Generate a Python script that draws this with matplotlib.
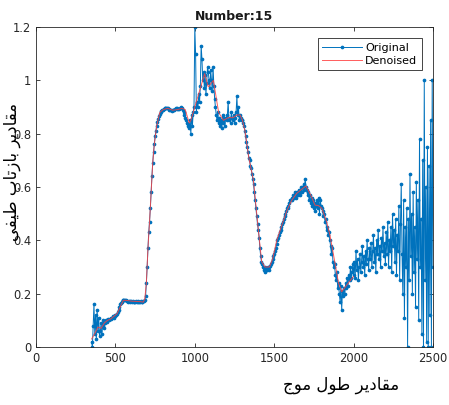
import numpy as np
import matplotlib
matplotlib.use("Agg")
import matplotlib.pyplot as plt

# original spectrum, 5 nm steps from 350 to 2500 nm
wl_orig = np.arange(350, 2501, 5)
refl_orig = [
    0.02, 0.0, 0.08, 0.16, 0.05, 0.12, 0.03, 0.14, 0.06, 0.11, 0.04,
    0.06, 0.09, 0.05, 0.08, 0.10, 0.07, 0.09, 0.10, 0.095, 0.10,
    0.105, 0.10, 0.105, 0.11, 0.105, 0.11, 0.115, 0.11, 0.115, 0.12,
    0.12, 0.125, 0.13, 0.14, 0.15, 0.16, 0.165, 0.17, 0.175, 0.178, 0.178, 0.176,
    0.175, 0.174, 0.172, 0.17, 0.172, 0.171, 0.17, 0.172, 0.17, 0.171, 0.17, 0.169,
    0.17, 0.172, 0.17, 0.171, 0.17, 0.168, 0.17, 0.172, 0.17, 0.17, 0.171, 0.172,
    0.175, 0.19, 0.24, 0.3, 0.37, 0.43, 0.47, 0.52, 0.58, 0.64, 0.69, 0.73, 0.76, 0.79, 0.81, 0.83,
    0.845, 0.855, 0.865, 0.873, 0.88, 0.885, 0.888, 0.89,
    0.893, 0.895, 0.897, 0.898, 0.897, 0.895, 0.893, 0.89, 0.888, 0.887,
    0.886, 0.887, 0.888, 0.89, 0.893, 0.895, 0.895, 0.893, 0.892, 0.893,
    0.895, 0.898, 0.9, 0.897, 0.89, 0.88, 0.87, 0.86, 0.85, 0.84,
    0.835, 0.83,
    0.82, 0.85, 0.8, 0.87, 0.83, 0.88, 0.9, 1.2,
    1.1, 0.88, 0.92, 0.9, 0.95, 0.92, 0.98, 1.13, 1.08, 1.0,
    1.03, 0.97, 1.02, 0.95, 0.99, 1.05, 1.03, 1.0, 0.97, 1.04,
    1.0, 0.96, 1.05, 0.98, 0.93, 0.9, 0.87, 0.85, 0.88, 0.84,
    0.86, 0.83, 0.85, 0.82, 0.87, 0.84, 0.86, 0.83, 0.86, 0.85,
    0.87, 0.92, 0.85, 0.86, 0.84, 0.88, 0.86, 0.85, 0.87, 0.84,
    0.86, 0.88, 0.94, 0.87, 0.9, 0.85, 0.87, 0.86, 0.85, 0.85,
    0.84, 0.83, 0.81, 0.79, 0.77, 0.75, 0.73, 0.71, 0.7, 0.68,
    0.67, 0.65, 0.63, 0.61, 0.58, 0.55, 0.52, 0.49, 0.46, 0.44,
    0.41, 0.37, 0.34, 0.32, 0.31, 0.3, 0.29, 0.3, 0.28, 0.295,
    0.29, 0.3, 0.29, 0.3, 0.305, 0.31, 0.32, 0.33, 0.34, 0.35,
    0.36, 0.37, 0.385, 0.4, 0.41, 0.42, 0.43, 0.44, 0.45, 0.46,
    0.47, 0.48, 0.49, 0.5, 0.51, 0.52, 0.52, 0.53, 0.54, 0.55,
    0.55, 0.56, 0.55, 0.57, 0.56, 0.58, 0.57, 0.56, 0.58, 0.57,
    0.59, 0.58, 0.57, 0.6, 0.58, 0.6, 0.61, 0.59, 0.63, 0.6,
    0.59, 0.57, 0.58, 0.55, 0.57, 0.54, 0.56, 0.53, 0.55, 0.52,
    0.54, 0.51, 0.53, 0.55, 0.52, 0.56, 0.5, 0.55, 0.53, 0.52,
    0.51, 0.49, 0.5, 0.47, 0.48, 0.44, 0.45, 0.42, 0.43, 0.4,
    0.38, 0.35, 0.37, 0.32, 0.3, 0.31, 0.27, 0.25, 0.28, 0.22,
    0.24, 0.2, 0.17, 0.23, 0.14, 0.21, 0.19, 0.22, 0.2, 0.24,
    0.22, 0.26, 0.23, 0.27, 0.25, 0.3, 0.26, 0.28, 0.31, 0.27,
    0.32, 0.26, 0.36, 0.29, 0.33, 0.25, 0.3, 0.35, 0.28, 0.32,
    0.38, 0.3, 0.34, 0.27, 0.36, 0.31, 0.4, 0.33, 0.29, 0.37,
    0.33, 0.39, 0.3, 0.36, 0.42, 0.32, 0.37, 0.28, 0.4, 0.35,
    0.44, 0.33, 0.38, 0.3, 0.41, 0.36, 0.45, 0.34, 0.39, 0.31,
    0.43, 0.35, 0.47, 0.3, 0.4, 0.36, 0.45, 0.28, 0.5, 0.38,
    0.44, 0.32, 0.48, 0.27, 0.42, 0.36, 0.53, 0.25, 0.46, 0.61,
    0.35, 0.2, 0.55, 0.11, 0.45, 0.3, 0.52, 0.0, 0.48, 0.25,
    0.65, 0.34, 0.5, 0.2, 0.58, 0.28, 0.45, 0.15, 0.62, 0.33,
    0.55, 0.1, 0.78, 0.3, 0.48, 0.05, 0.7, 0.0, 1.0, 0.25,
    0.6, 0.02, 0.75, 0.0, 0.68, 0.12, 0.85, 0.0, 1.0, 0.3,
]

# denoised curve (only up to ~2000 nm)
wl_den = [350, 370, 390, 410, 430, 450, 470, 490, 510, 530, 550, 570, 600, 630,
          660, 675, 685, 695, 705, 715, 725, 735, 745, 760, 780, 800, 830, 860,
          890, 920, 940, 955, 965, 975, 1062, 1085, 1117, 1150, 1180, 1210, 1240,
          1265, 1285, 1300, 1316, 1340, 1369, 1400, 1421, 1442, 1470, 1490, 1516,
          1550, 1579, 1610, 1642, 1670, 1700, 1730, 1757, 1780, 1800, 1830, 1851,
          1883, 1905, 1925, 1960, 1999]
refl_den = [0.03, 0.05, 0.075, 0.07, 0.09, 0.1, 0.105, 0.115, 0.125, 0.15, 0.175,
            0.175, 0.172, 0.171, 0.17, 0.168, 0.18, 0.24, 0.37, 0.47, 0.58, 0.69,
            0.76, 0.83, 0.88, 0.89, 0.895, 0.888, 0.89, 0.895, 0.89, 0.86, 0.84,
            0.85, 1.025, 0.975, 1.0, 0.88, 0.85, 0.86, 0.86, 0.87, 0.87, 0.85,
            0.81, 0.71, 0.626, 0.44, 0.32, 0.30, 0.3, 0.33, 0.40, 0.46, 0.51, 0.55,
            0.576, 0.59, 0.604, 0.57, 0.532, 0.53, 0.52, 0.47, 0.42, 0.314, 0.24,
            0.207, 0.235, 0.264]

xticks = [0, 500, 1000, 1500, 2000, 2500]
yticks = [0, 0.2, 0.4, 0.6, 0.8, 1.0, 1.2]
ytick_labels = ["0", "0.2", "0.4", "0.6", "0.8", "1", "1.2"]

title = "Number:15"
xlabel = "مقادیر طول موج"
ylabel = "مقادیر بازتاب طیفی"

# contextual forms: isolated, final, initial, medial
FORMS = {
    'ا': ('\uFE8D', '\uFE8E', None, None),
    'ب': ('\uFE8F', '\uFE90', '\uFE91', '\uFE92'),
    'ت': ('\uFE95', '\uFE96', '\uFE97', '\uFE98'),
    'ج': ('\uFE9D', '\uFE9E', '\uFE9F', '\uFEA0'),
    'د': ('\uFEA9', '\uFEAA', None, None),
    'ر': ('\uFEAD', '\uFEAE', None, None),
    'ز': ('\uFEAF', '\uFEB0', None, None),
    'ط': ('\uFEC1', '\uFEC2', '\uFEC3', '\uFEC4'),
    'ف': ('\uFED1', '\uFED2', '\uFED3', '\uFED4'),
    'ق': ('\uFED5', '\uFED6', '\uFED7', '\uFED8'),
    'ل': ('\uFEDD', '\uFEDE', '\uFEDF', '\uFEE0'),
    'م': ('\uFEE1', '\uFEE2', '\uFEE3', '\uFEE4'),
    'و': ('\uFEED', '\uFEEE', None, None),
    'ی': ('\uFBFC', '\uFBFD', '\uFBFE', '\uFBFF'),
}


def shape_rtl(text):
    # pick joined letter forms and flip to visual order
    out = []
    for i, ch in enumerate(text):
        if ch not in FORMS:
            out.append(ch)
            continue
        prev = text[i - 1] if i > 0 else ' '
        nxt = text[i + 1] if i + 1 < len(text) else ' '
        join_prev = prev in FORMS and FORMS[prev][2] is not None
        join_next = FORMS[ch][2] is not None and nxt in FORMS
        iso, fin, ini, med = FORMS[ch]
        if join_prev and join_next:
            out.append(med)
        elif join_prev:
            out.append(fin)
        elif join_next:
            out.append(ini)
        else:
            out.append(iso)
    return ''.join(reversed(out))


plt.rcParams['font.family'] = ['DejaVu Sans']
axcol = '#262626'

fig = plt.figure(figsize=(4.49, 4.05), dpi=100)
ax = fig.add_axes([36 / 449, 58 / 405, 397 / 449, 320 / 405])

ax.plot(wl_orig, refl_orig, color='#0072BD', lw=0.7, marker='.', ms=3.3,
        label='Original')
ax.plot(wl_den, refl_den, color='#FF4040', lw=0.7, alpha=0.85, label='Denoised')

ax.set_xlim(0, 2500)
ax.set_ylim(0, 1.2)
ax.set_xticks(xticks)
ax.set_yticks(yticks)
ax.set_yticklabels(ytick_labels)
ax.tick_params(direction='in', length=3, width=0.6, colors=axcol, labelsize=8.3,
               top=True, right=True)
for s in ax.spines.values():
    s.set_color(axcol)
    s.set_linewidth(0.6)

ax.set_title(title, fontsize=9, fontweight='bold', color='#1a1a1a', pad=5)

leg = ax.legend(loc='upper right', fontsize=8, fancybox=False, framealpha=1,
                edgecolor=axcol, handlelength=3.6, borderaxespad=1.0,
                borderpad=0.4, labelspacing=0.3, handletextpad=0.3)
leg.get_frame().set_linewidth(0.6)

fig.text(341 / 449, 1 - 385 / 405, shape_rtl(xlabel), fontsize=12,
         ha='center', va='center', color='black')
fig.text(12 / 449, 1 - 172 / 405, shape_rtl(ylabel), fontsize=12,
         ha='center', va='center', rotation=90, color='black')

fig.savefig('out.png', dpi=100)
